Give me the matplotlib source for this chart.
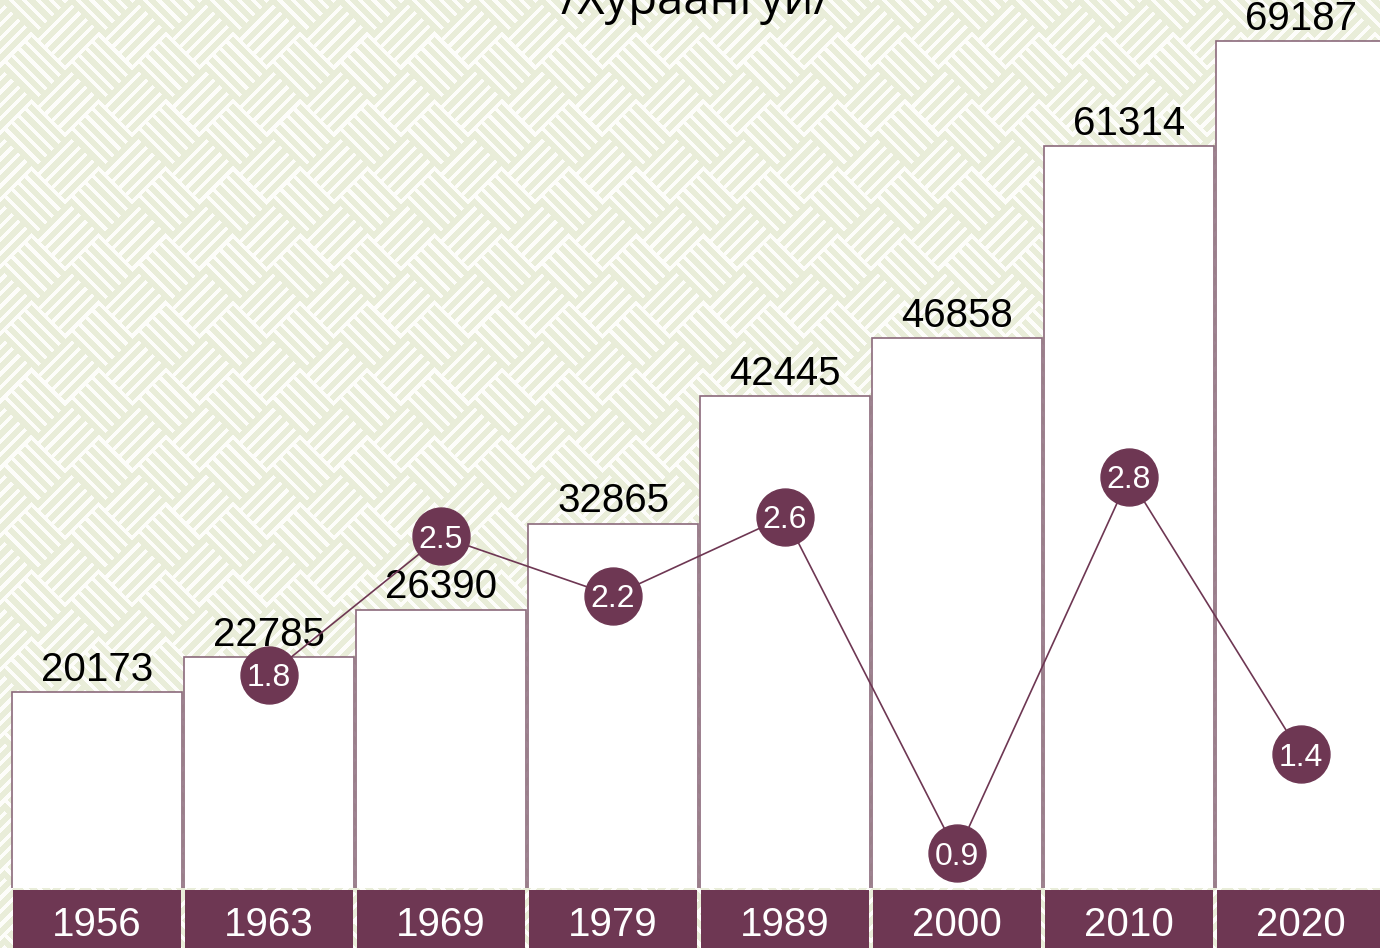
import numpy as np
import matplotlib
matplotlib.use("Agg")
import matplotlib.pyplot as plt

years = ["1956", "1963", "1969", "1979", "1989", "2000", "2010", "2020"]
population = [20173, 22785, 26390, 32865, 42445, 46858, 61314, 69187]
growth = [1.8, 2.5, 2.2, 2.6, 0.9, 2.8, 1.4]  # 1963..2020

maroon = "#6e3753"
W, H = 1380, 948
fig = plt.figure(figsize=(W / 100, H / 100), dpi=100)

# maze-like background (woven diagonal stripes)
yy, xx = np.mgrid[0:H, 0:W]
u = (xx + yy) / np.sqrt(2)
v = (xx - yy) / np.sqrt(2)
p = 9.5
B = 5 * p
block = (np.floor(u / B) + np.floor(v / B)) % 2
stripe = np.where(block == 0, (v % p) < 5.8, (u % p) < 5.8)
green = np.array([233, 237, 217]) / 255
white = np.array([253, 253, 250]) / 255
img = np.where(stripe[..., None], green, white)
bg = fig.add_axes([0, 0, 1, 1], zorder=-1)
bg.imshow(img, aspect="auto", interpolation="bilinear")
bg.axis("off")

fig.text(0.504, 1 - 14 / H, "/Хураангуй/", ha="center", va="baseline",
         fontsize=34, family="Open Sans", color="black")

x = np.arange(len(years))
xlim = (-97 / 172, (W - 97) / 172)

# bars
strip_h = 58
ax = fig.add_axes([0, (H - 888) / H, 1, 888 / H])
ax.set_facecolor("none")
ax.bar(x, population, width=0.985, color="white", edgecolor="#8b6a7b", lw=1.2)
ax.set_xlim(*xlim)
ax.set_ylim(5422, 72295)
ax.axis("off")
for i, val in enumerate(population):
    ax.annotate(str(val), (i, val), xytext=(0, 8), textcoords="offset points",
                ha="center", va="baseline", fontsize=29,
                family="Liberation Sans", color="black")

# growth line on its own scale
ax2 = ax.twinx()
ax2.set_ylim(0.7242, 5.2091)
ax2.set_xlim(*xlim)
ax2.axis("off")
ax2.plot(x[1:], growth, color=maroon, lw=1.2, marker="o", ms=41,
         mfc=maroon, mec=maroon, zorder=3)
for i, g in zip(x[1:], growth):
    ax2.text(i, g, f"{g}", color="white", ha="center", va="center_baseline",
             fontsize=23, family="Liberation Sans", zorder=4)

# category strip
sax = fig.add_axes([0, 0, 1, strip_h / H])
sax.set_facecolor("none")
sax.bar(x, 1, width=0.982, color=maroon)
sax.set_xlim(*xlim)
sax.set_ylim(0, 1)
sax.axis("off")
for i, yr in enumerate(years):
    sax.text(i, 0.47, yr, color="white", ha="center", va="center_baseline",
             fontsize=29, family="Liberation Sans")

fig.savefig("out.png", dpi=100)
